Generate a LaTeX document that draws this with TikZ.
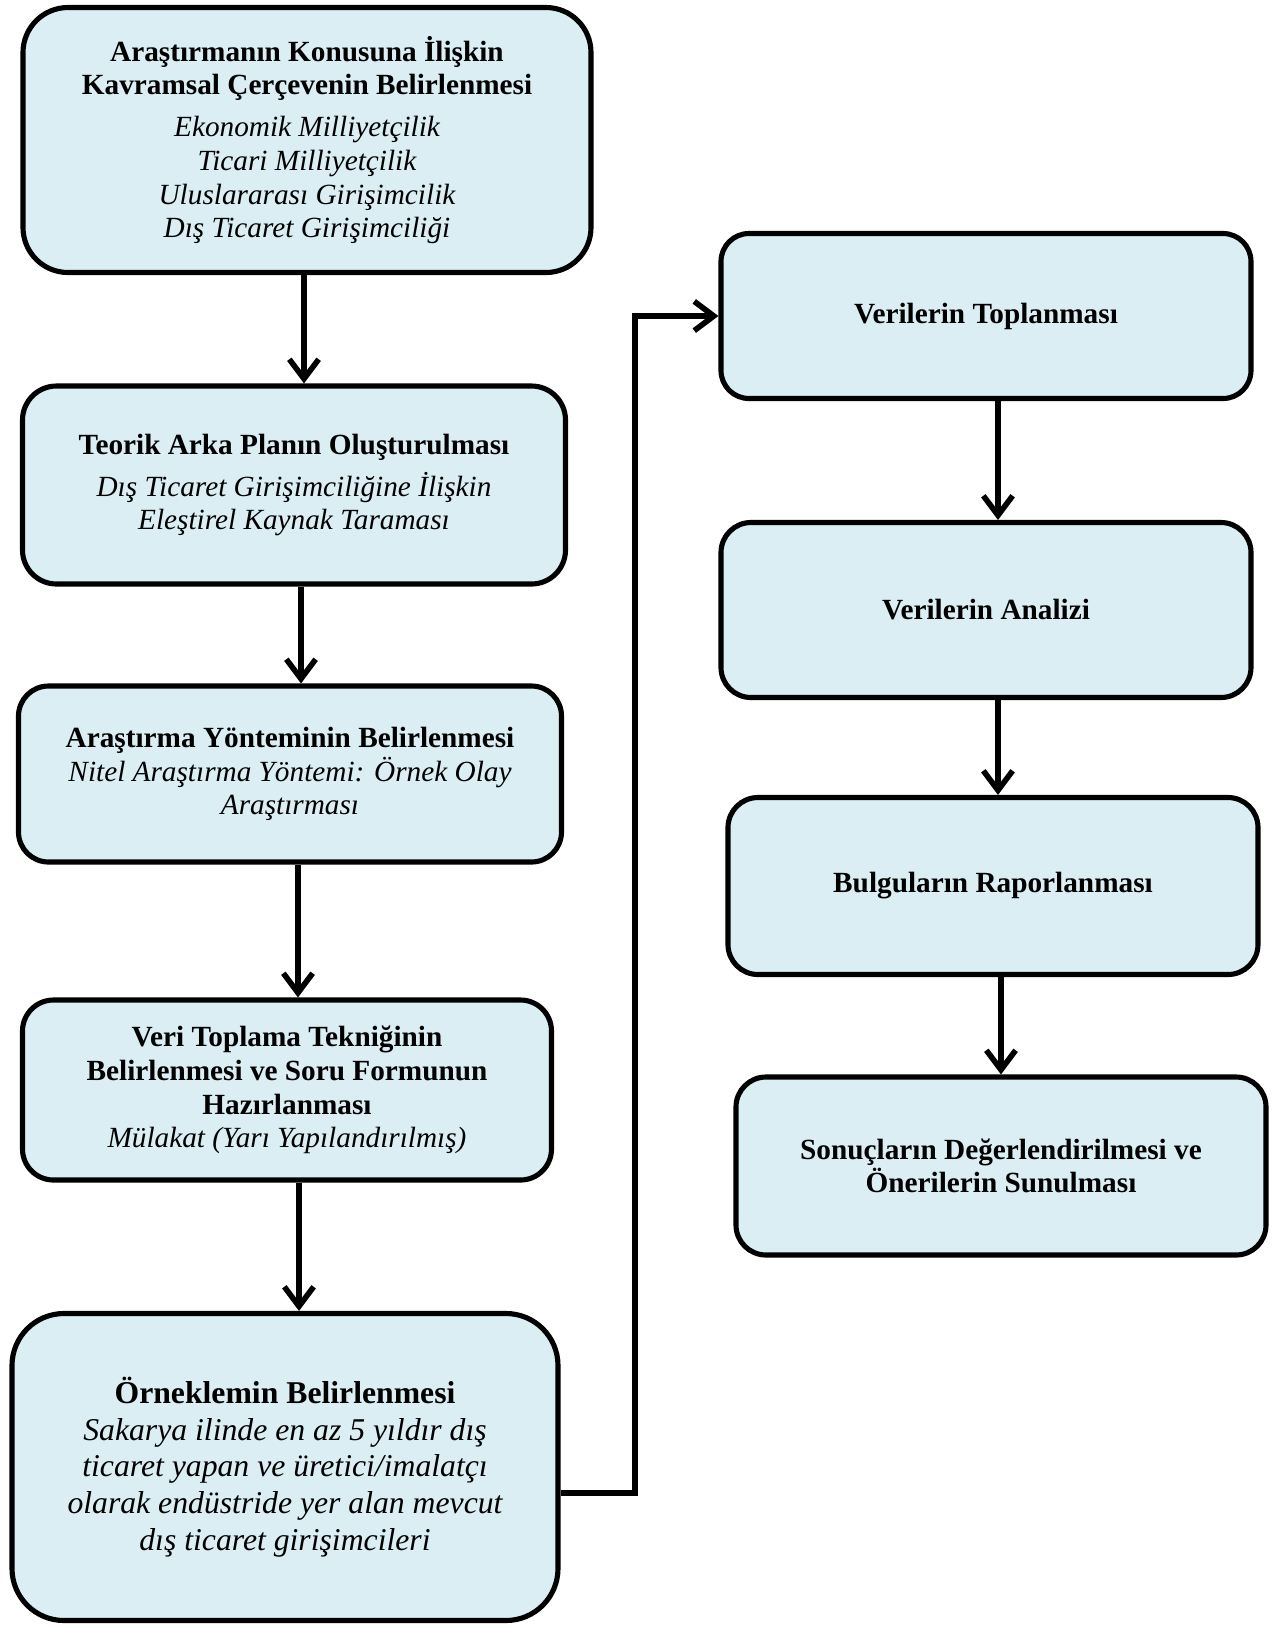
\documentclass[tikz,border=0pt]{standalone}
\usepackage{fontspec}
\setmainfont{Liberation Serif}
\usetikzlibrary{arrows.meta}
\definecolor{kutumavi}{HTML}{DAEEF3}
\newcommand{\birim}{0.41pt}
\tikzset{
kutu/.style={draw, line width=2.1pt, fill=kutumavi, align=center, inner sep=2pt,
  font=\fontsize{12pt}{13.8pt}\selectfont},
ok/.style={line width=2.3pt, -{Straight Barb[length=8pt,width=12pt]}}
}
\begin{document}
\begin{tikzpicture}[x=\birim, y=-\birim]
\useasboundingbox (0,0) rectangle (1286,1626);

% sol sutun
\node[kutu, minimum width=568*\birim, minimum height=265*\birim, rounded corners=45*\birim] (b1) at (307,140)
{\bfseries Araştırmanın Konusuna İlişkin\\ \bfseries Kavramsal Çerçevenin Belirlenmesi\\[3.5pt]
\itshape Ekonomik Milliyetçilik\\ \itshape Ticari Milliyetçilik\\ \itshape Uluslararası Girişimcilik\\ \itshape Dış Ticaret Girişimciliği};
\node[kutu, minimum width=543*\birim, minimum height=198*\birim, rounded corners=34*\birim] (b2) at (294,485)
{\bfseries Teorik Arka Planın Oluşturulması\\[3.5pt]
\itshape Dış Ticaret Girişimciliğine İlişkin\\ \itshape Eleştirel Kaynak Taraması};
\node[kutu, minimum width=543*\birim, minimum height=176*\birim, rounded corners=30*\birim] (b3) at (290,774)
{\bfseries Araştırma Yönteminin Belirlenmesi\\
\itshape Nitel Araştırma Yöntemi: Örnek Olay\\ \itshape Araştırması};
\node[kutu, minimum width=529*\birim, minimum height=180*\birim, rounded corners=31*\birim] (b4) at (287,1090)
{\bfseries Veri Toplama Tekniğinin\\ \bfseries Belirlenmesi ve Soru Formunun\\ \bfseries Hazırlanması\\
\itshape Mülakat (Yarı Yapılandırılmış)};
\node[kutu, minimum width=546*\birim, minimum height=307*\birim, rounded corners=52*\birim,
  font=\fontsize{13pt}{15pt}\selectfont] (b5) at (285,1467)
{\bfseries Örneklemin Belirlenmesi\\
\itshape Sakarya ilinde en az 5 yıldır dış\\ \itshape ticaret yapan ve üretici/imalatçı\\
\itshape olarak endüstride yer alan mevcut\\ \itshape dış ticaret girişimcileri};

% sag sutun
\node[kutu, minimum width=530*\birim, minimum height=165*\birim, rounded corners=28*\birim] (r1) at (986,316)
{\bfseries Verilerin Toplanması};
\node[kutu, minimum width=530*\birim, minimum height=175*\birim, rounded corners=30*\birim] (r2) at (986,610)
{\bfseries Verilerin Analizi};
\node[kutu, minimum width=530*\birim, minimum height=177*\birim, rounded corners=30*\birim] (r3) at (993,886)
{\bfseries Bulguların Raporlanması};
\node[kutu, minimum width=530*\birim, minimum height=178*\birim, rounded corners=30*\birim] (r4) at (1001,1166)
{\bfseries Sonuçların Değerlendirilmesi ve\\ \bfseries Önerilerin Sunulması};

% oklar
\foreach \ust/\alt/\xk in {b1/b2/304, b2/b3/301, b3/b4/298, b4/b5/299, r1/r2/998, r2/r3/998, r3/r4/1001}{
  \coordinate (xk) at (\xk,0);
  \draw[ok] (xk |- \ust.south) -- (xk |- \alt.north);
}
\coordinate (kose) at (635,1493);
\draw[ok] (kose -| b5.east) -- (kose) |- (r1.west);
\end{tikzpicture}
\end{document}
